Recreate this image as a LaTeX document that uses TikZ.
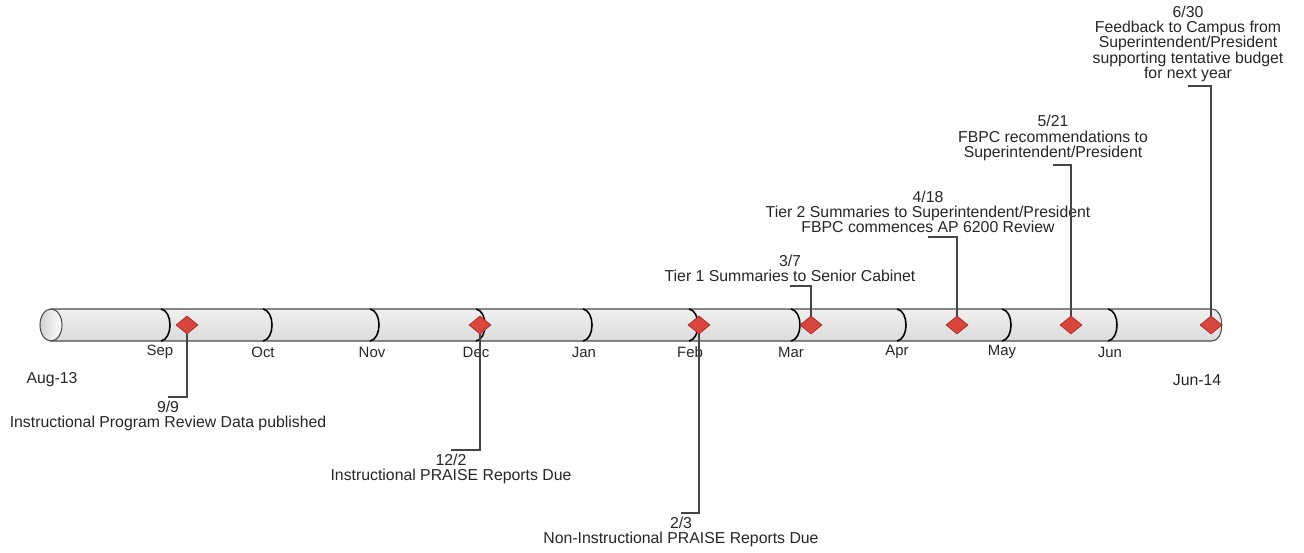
\documentclass[tikz,border=0pt]{standalone}
\usepackage{fontspec}
\setmainfont{Liberation Sans}
\usetikzlibrary{shapes.geometric}
\usepackage{xcolor}
\definecolor{ink}{HTML}{262626}
\definecolor{rule}{HTML}{454545}
\definecolor{tubeline}{HTML}{4A4A4A}
\definecolor{mile}{HTML}{D9463D}
\definecolor{miledraw}{HTML}{B2322A}
\tikzset{
  every node/.style={text=ink},
  event/.style={font=\fontsize{9}{8.8}\selectfont,align=center,inner sep=2pt},
  month/.style={font=\fontsize{8.5}{10}\selectfont,inner sep=1pt},
  endlabel/.style={font=\fontsize{9}{10}\selectfont,inner sep=1pt},
  milestone/.style={diamond,draw=miledraw,line width=0.5pt,fill=mile,minimum width=0.44cm,minimum height=0.36cm,inner sep=0pt},
  leader/.style={draw=rule,line width=0.75pt},
  tube/.style={draw=tubeline,line width=0.6pt,top color=gray!12,middle color=gray!62,bottom color=gray!28},
  tubeend/.style={draw=tubeline,line width=0.6pt,left color=gray!35,right color=white},
  monthsep/.style={draw=black,line width=0.9pt},
}

\begin{document}
\begin{tikzpicture}[x=0.02cm,y=-0.02cm]
\useasboundingbox (0,0) rectangle (1304,553);

% the year as a tube
\path[tube] (51,309) -- (1212,309) .. controls (1225,309) and (1225,341) .. (1212,341) -- (51,341) -- cycle;
\draw[tubeend] (51,325) ellipse [x radius=0.22cm, y radius=0.32cm];

% month separators
\draw[monthsep] (161,309) .. controls (173,311) and (173,339) .. (161,341);
\draw[monthsep] (263,309) .. controls (275,311) and (275,339) .. (263,341);
\draw[monthsep] (370,309) .. controls (382,311) and (382,339) .. (370,341);
\draw[monthsep] (476,309) .. controls (488,311) and (488,339) .. (476,341);
\draw[monthsep] (583,309) .. controls (595,311) and (595,339) .. (583,341);
\draw[monthsep] (689,309) .. controls (701,311) and (701,339) .. (689,341);
\draw[monthsep] (791,309) .. controls (803,311) and (803,339) .. (791,341);
\draw[monthsep] (897,309) .. controls (909,311) and (909,339) .. (897,341);
\draw[monthsep] (1002,309) .. controls (1014,311) and (1014,339) .. (1002,341);
\draw[monthsep] (1108,309) .. controls (1120,311) and (1120,339) .. (1108,341);

% month names
\node[month] (sep) at (160,352) {Sep};
\node[month] (oct) at (263,352) {Oct};
\node[month] (nov) at (372,352) {Nov};
\node[month] (dec) at (476,352) {Dec};
\node[month] (jan) at (584,352) {Jan};
\node[month] (feb) at (690,352) {Feb};
\node[month] (mar) at (791,352) {Mar};
\node[month] (apr) at (897,352) {Apr};
\node[month] (may) at (1002,352) {May};
\node[month] (jun) at (1110,352) {Jun};

\node[endlabel] (start) at (52,380) {Aug-13};
\node[endlabel] (finish) at (1197,380) {Jun-14};

% milestones
\node[milestone] (d0909) at (187,325) {};
\node[milestone] (d1202) at (480,325) {};
\node[milestone] (d0203) at (699,325) {};
\node[milestone] (d0307) at (811,325) {};
\node[milestone] (d0418) at (957,325) {};
\node[milestone] (d0521) at (1071,325) {};
\node[milestone] (d0630) at (1211,325) {};

% events below the tube
\node[event,anchor=north] (t0909) at (168,397)
{9/9\\Instructional Program Review Data published};
\node[event,anchor=north] (t1202) at (451,450)
{12/2\\Instructional PRAISE Reports Due};
\node[event,anchor=north] (t0203) at (681,513)
{2/3\\Non-Instructional PRAISE Reports Due};

% events above the tube
\node[event,anchor=south] (t0307) at (790,286)
{3/7\\Tier 1 Summaries to Senior Cabinet};
\node[event,anchor=south] (t0418) at (928,237)
{4/18\\Tier 2 Summaries to Superintendent/President\\FBPC commences AP 6200 Review};
\node[event,anchor=south] (t0521) at (1053,165)
{5/21\\FBPC recommendations to\\Superintendent/President};
\node[event,anchor=south] (t0630) at (1188,86)
{6/30\\Feedback to Campus from\\Superintendent/President\\supporting tentative budget\\for next year};

% leaders
\draw[leader] (d0909.south) |- (t0909.north);
\draw[leader] (d1202.south) |- (t1202.north);
\draw[leader] (d0203.south) |- (t0203.north);
\draw[leader] (d0307.north) |- (t0307.south);
\draw[leader] (d0418.north) |- (t0418.south);
\draw[leader] (d0521.north) |- (t0521.south);
\draw[leader] (d0630.north) |- (t0630.south);

\end{tikzpicture}
\end{document}
